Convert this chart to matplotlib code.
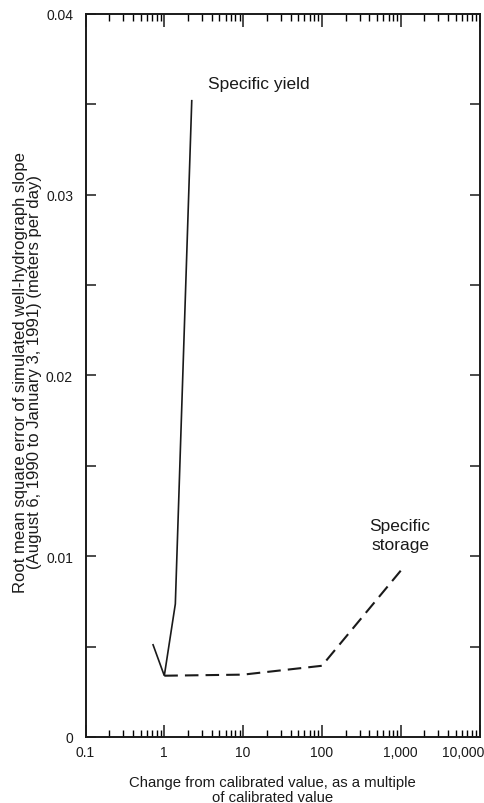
import matplotlib
matplotlib.use("Agg")
import matplotlib.pyplot as plt
from matplotlib.transforms import ScaledTranslation
from matplotlib.ticker import FixedLocator, FixedFormatter, LogLocator, NullFormatter, MultipleLocator

plt.rcParams['font.family'] = ['Liberation Sans', 'DejaVu Sans']

# Sensitivity of hydrograph-slope RMS error to parameter multipliers
yield_mult = [0.72, 1.0, 1.38, 2.23]
yield_rmse = [0.0051, 0.00339, 0.00736, 0.0352]

storage_mult = [1.0, 10.0, 100.0, 1000.0]
storage_rmse = [0.00339, 0.00345, 0.00394, 0.0092]

x_ticks = [0.1, 1, 10, 100, 1000, 10000]
x_tick_labels = ['0.1', '1', '10', '100', '1,000', '10,000']
y_ticks = [0, 0.01, 0.02, 0.03, 0.04]
y_tick_labels = ['0', '0.01', '0.02', '0.03', '0.04']

fig = plt.figure(figsize=(4.85, 8.04), dpi=100)
ax = fig.add_axes([0.1763, 0.0821, 0.8124, 0.8993])

ink = '#1a1a1a'
ax.plot(yield_mult, yield_rmse, color=ink, lw=1.2, solid_joinstyle='miter')
ax.plot(storage_mult, storage_rmse, color=ink, lw=1.5, linestyle=(0, (6.5, 3.4)))

ax.set_xscale('log')
ax.set_xlim(0.1, 10000)
ax.set_ylim(0, 0.04)

ax.xaxis.set_major_locator(FixedLocator(x_ticks))
ax.xaxis.set_major_formatter(FixedFormatter(x_tick_labels))
ax.xaxis.set_minor_locator(LogLocator(base=10, subs=range(2, 10), numticks=20))
ax.xaxis.set_minor_formatter(NullFormatter())

ax.yaxis.set_major_locator(FixedLocator(y_ticks))
ax.yaxis.set_major_formatter(FixedFormatter(y_tick_labels))
ax.yaxis.set_minor_locator(MultipleLocator(0.005))

ax.tick_params(axis='x', which='major', direction='in', length=9, width=1.1,
               top=True, bottom=True, labelsize=10, pad=6, colors=ink)
ax.tick_params(axis='x', which='minor', direction='in', length=5, width=1.0,
               top=True, bottom=True)
ax.tick_params(axis='y', which='both', direction='in', length=7, width=1.1,
               left=True, right=True, labelsize=10, pad=9, colors=ink)

for side in ['left', 'right', 'top', 'bottom']:
    ax.spines[side].set_linewidth(1.4)
    ax.spines[side].set_color(ink)

# keep the last decade label inside the figure edge
last = ax.get_xticklabels()[-1]
last.set_transform(last.get_transform() + ScaledTranslation(-16 / 100, 0, fig.dpi_scale_trans))

ax.set_xlabel('Change from calibrated value, as a multiple\nof calibrated value',
              fontsize=10.7, color=ink, linespacing=1.1)
ax.xaxis.set_label_coords(0.475, -0.052, transform=ax.transAxes)
ax.xaxis.label.set_va('top')
ax.set_ylabel('Root mean square error of simulated well-hydrograph slope\n'
              '(August 6, 1990 to January 3, 1991) (meters per day)',
              fontsize=12, color=ink, linespacing=0.92)
ax.yaxis.set_label_coords(-0.147, 0.506, transform=ax.transAxes)
ax.yaxis.label.set_va('center')

ax.text(3.59, 0.03613, 'Specific yield', fontsize=12.5, color=ink,
        ha='left', va='center')
ax.text(980, 0.01118, 'Specific\nstorage', fontsize=12.5, color=ink,
        ha='center', va='center', linespacing=1.3)

fig.savefig('out.png', dpi=100)
